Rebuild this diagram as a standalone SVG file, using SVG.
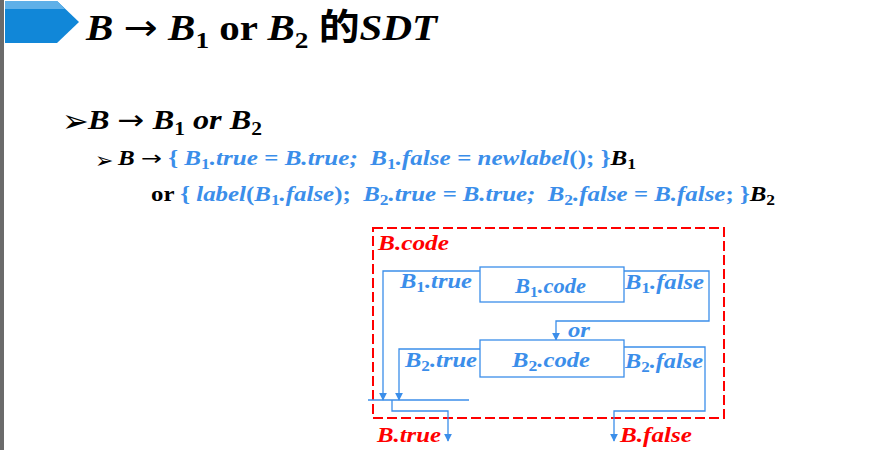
<svg xmlns="http://www.w3.org/2000/svg" width="872" height="450" viewBox="0 0 872 450">
<defs>
<style>
.t{font-family:"Liberation Serif","Times New Roman","Noto Sans CJK SC",serif;font-weight:bold;}
.i{font-style:italic;}
.ar{font-family:"DejaVu Sans",sans-serif;font-weight:normal;font-style:normal;}
.blk{fill:#000;}
.blu{fill:#3b8eea;}
.red{fill:#ff0000;}
.cn{fill:none;stroke:#3b8eea;stroke-width:1.3;}
.bx{fill:#fff;stroke:#3b8eea;stroke-width:1.3;}
</style>
<marker id="ah" viewBox="0 0 10 10" refX="9" refY="5" markerWidth="8" markerHeight="8" markerUnits="userSpaceOnUse" orient="auto">
<path d="M0,0 L10,5 L0,10 z" fill="#3b8eea"/>
</marker>
</defs>
<rect width="872" height="450" fill="#fff"/>
<rect x="0" y="0" width="4" height="450" fill="#6b6b6b"/>
<g id="banner">
<polygon points="5,1 57,1 79,22 57,43 5,43" fill="#1187d8"/>
<polygon points="5,1 57,1 65,9 5,9" fill="#5fb0e8"/>
</g>
<g id="title">
<text class="t blk" x="86" y="40" font-size="36" textLength="351" lengthAdjust="spacingAndGlyphs"><tspan class="i">B</tspan> <tspan class="ar">→</tspan> <tspan class="i">B</tspan><tspan dy="8" font-size="24">1</tspan><tspan dy="-8"> or </tspan><tspan class="i">B</tspan><tspan dy="8" font-size="24">2</tspan><tspan dy="-8"> 的</tspan><tspan class="i">SDT</tspan></text>
</g>
<g id="text-lines">
<text class="blk" x="62" y="132" font-size="32" font-family="DejaVu Sans,sans-serif">➢</text>
<text class="t i blk" x="88" y="129" font-size="27" textLength="174" lengthAdjust="spacingAndGlyphs">B <tspan class="ar">→</tspan> B<tspan dy="6" font-size="18" font-style="normal">1</tspan><tspan dy="-6"> or B</tspan><tspan dy="6" font-size="18" font-style="normal">2</tspan></text>
<text class="blk" x="95" y="168" font-size="22" font-family="DejaVu Sans,sans-serif">➢</text>
<text class="t blk" x="118" y="165" font-size="20" xml:space="preserve" textLength="518" lengthAdjust="spacingAndGlyphs"><tspan class="i">B</tspan> <tspan class="ar">→</tspan> <tspan class="blu">{ <tspan class="i">B</tspan><tspan dy="4" font-size="14">1</tspan><tspan dy="-4" class="i">.true = B.true;  B</tspan><tspan dy="4" font-size="14">1</tspan><tspan dy="-4" class="i">.false = newlabel</tspan>(); }</tspan><tspan class="i">B</tspan><tspan dy="4" font-size="14">1</tspan></text>
<text class="t blk" x="151" y="201" font-size="20" xml:space="preserve" textLength="624" lengthAdjust="spacingAndGlyphs">or <tspan class="blu">{ <tspan class="i">label</tspan>(<tspan class="i">B</tspan><tspan dy="4" font-size="14">1</tspan><tspan dy="-4" class="i">.false</tspan>);  <tspan class="i">B</tspan><tspan dy="4" font-size="14">2</tspan><tspan dy="-4" class="i">.true = B.true;  B</tspan><tspan dy="4" font-size="14">2</tspan><tspan dy="-4" class="i">.false = B.false</tspan>; }</tspan><tspan class="i">B</tspan><tspan dy="4" font-size="14">2</tspan></text>
</g>
<g id="bcode-frame">
<rect x="373" y="228" width="351" height="190" fill="none" stroke="#ff0000" stroke-width="2" stroke-dasharray="10,4"/>
<text class="t i red" x="378" y="250" font-size="21" textLength="71" lengthAdjust="spacingAndGlyphs">B.code</text>
</g>
<g id="connectors">
<polyline class="cn" points="480,271 383,271 383,400" marker-end="url(#ah)"/>
<polyline class="cn" points="624,271 709,271 709,321 556,321 556,340" marker-end="url(#ah)"/>
<polyline class="cn" points="480,349 399,349 399,400" marker-end="url(#ah)"/>
<polyline class="cn" points="624,347 705,347 705,411 614,411 614,441" marker-end="url(#ah)"/>
<line class="cn" x1="368" y1="400" x2="469" y2="400"/>
<polyline class="cn" points="392,400 392,411 448,411 448,441" marker-end="url(#ah)"/>
</g>
<g id="b1code">
<rect class="bx" x="480" y="267" width="144" height="35"/>
<text class="t i blu" x="515" y="293" font-size="20" textLength="71" lengthAdjust="spacingAndGlyphs">B<tspan dy="4" font-size="14" font-style="normal">1</tspan><tspan dy="-4">.code</tspan></text>
</g>
<g id="b2code">
<rect class="bx" x="480" y="340" width="144" height="37"/>
<text class="t i blu" x="512" y="367" font-size="21" textLength="78" lengthAdjust="spacingAndGlyphs">B<tspan dy="4" font-size="15" font-style="normal">2</tspan><tspan dy="-4">.code</tspan></text>
</g>
<g id="labels">
<text class="t i blu" x="400" y="288" font-size="20" textLength="72" lengthAdjust="spacingAndGlyphs">B<tspan dy="4" font-size="14" font-style="normal">1</tspan><tspan dy="-4">.true</tspan></text>
<text class="t i blu" x="625" y="289" font-size="20" textLength="79" lengthAdjust="spacingAndGlyphs">B<tspan dy="4" font-size="14" font-style="normal">1</tspan><tspan dy="-4">.false</tspan></text>
<text class="t i blu" x="568" y="337" font-size="20" textLength="22" lengthAdjust="spacingAndGlyphs">or</text>
<text class="t i blu" x="405" y="367" font-size="20" textLength="72" lengthAdjust="spacingAndGlyphs">B<tspan dy="4" font-size="14" font-style="normal">2</tspan><tspan dy="-4">.true</tspan></text>
<text class="t i blu" x="625" y="368" font-size="20" textLength="78" lengthAdjust="spacingAndGlyphs">B<tspan dy="4" font-size="14" font-style="normal">2</tspan><tspan dy="-4">.false</tspan></text>
<text class="t i red" x="377" y="442" font-size="21" textLength="64" lengthAdjust="spacingAndGlyphs">B.true</text>
<text class="t i red" x="620" y="442" font-size="21" textLength="72" lengthAdjust="spacingAndGlyphs">B.false</text>
</g>
</svg>
